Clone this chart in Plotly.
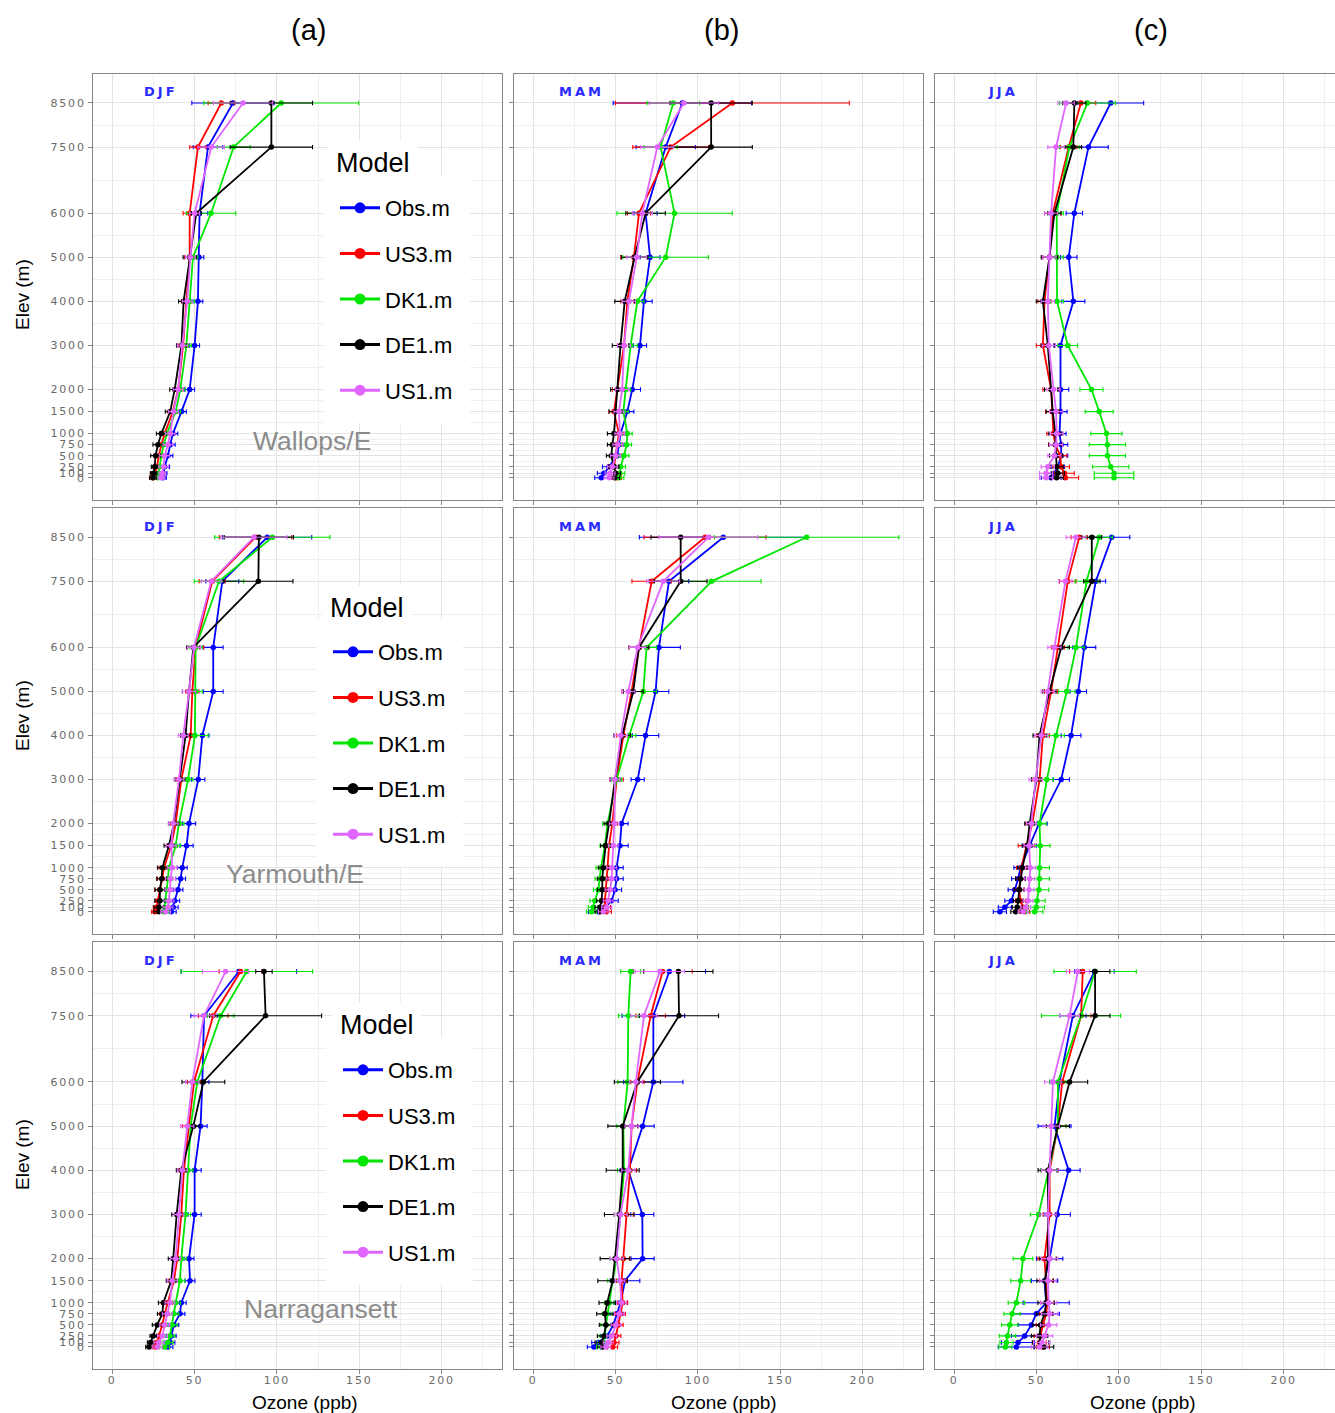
import plotly.graph_objects as go

# ---------------------------------------------------------------------------
# Vertical ozone profiles: mean (ppb) and standard deviation per height level
# ---------------------------------------------------------------------------
LEVELS = [8500, 7500, 6000, 5000, 4000, 3000, 2000, 1500, 1000, 750, 500, 250, 100, 0]
LEVEL_TICKS = [0, 100, 250, 500, 750, 1000, 1500, 2000, 3000, 4000, 5000, 6000, 7500, 8500]
LEVEL_MINOR = [50, 175, 375, 625, 875, 1250, 1750, 2500, 3500, 4500, 5500, 6750, 8000]
OZONE_TICKS = [0, 50, 100, 150, 200]
OZONE_MINOR = [25, 75, 125, 175, 225]

MODELS = ["Obs.m", "US3.m", "DK1.m", "DE1.m", "US1.m"]
COLORS = ["#0000ff", "#ff0000", "#00e600", "#000000", "#e066ff"]
STATIONS = ["Wallops/E", "Yarmouth/E", "Narragansett"]
SEASONS = ["DJF", "MAM", "JJA"]
COLUMN_TAGS = ["(a)", "(b)", "(c)"]
LEGEND_TITLE = "Model"

# Wallops Island, winter
wallops_djf_obs = [73.3, 58.1, 53.0, 52.6, 52.0, 50.0, 47.0, 42.0, 36.8, 35.2, 33.8, 31.8, 31.2, 30.8]
wallops_djf_obs_sd = [25, 9, 5, 3, 3, 3, 3, 3, 3, 3, 3, 3, 2, 2]
wallops_djf_us3 = [66.2, 52.0, 47.0, 47.0, 45.0, 43.0, 40.0, 36.8, 31.8, 29.8, 28.3, 27.1, 25.7, 24.7]
wallops_djf_us3_sd = [8, 5, 4, 3, 3, 3, 3, 3, 3, 2, 2, 2, 2, 2]
wallops_djf_dk1 = [102.6, 73.7, 60.0, 49.0, 47.0, 45.0, 41.3, 38.5, 33.2, 31.2, 29.8, 28.7, 28.3, 27.7]
wallops_djf_dk1_sd = [47, 10, 15, 3, 3, 3, 3, 3, 3, 3, 3, 3, 3, 3]
wallops_djf_de1 = [96.6, 96.6, 51.0, 47.0, 43.3, 42.0, 37.9, 35.2, 29.8, 27.7, 26.3, 25.7, 25.1, 24.7]
wallops_djf_de1_sd = [25, 25, 3, 4, 3, 3, 3, 3, 3, 3, 3, 2, 2, 2]
wallops_djf_us1 = [79.4, 60.1, 50.0, 47.4, 45.5, 42.5, 40.0, 37.2, 35.2, 33.8, 31.8, 31.2, 30.4, 29.8]
wallops_djf_us1_sd = [18, 8, 3, 3, 3, 3, 3, 3, 3, 3, 3, 3, 2, 2]

# Wallops Island, spring
wallops_mam_obs = [90.5, 80.4, 68.2, 70.9, 67.2, 64.8, 60.1, 57.1, 53.0, 52.0, 51.0, 46.0, 42.9, 41.3]
wallops_mam_obs_sd = [42, 18, 7, 6, 5, 4, 5, 4, 3, 3, 3, 4, 4, 4]
wallops_mam_us3 = [120.9, 83.4, 64.2, 61.1, 57.1, 55.1, 51.0, 49.0, 52.0, 51.0, 50.0, 49.0, 50.0, 50.6]
wallops_mam_us3_sd = [71, 23, 7, 8, 4, 4, 3, 3, 3, 3, 3, 3, 3, 3]
wallops_mam_dk1 = [85.0, 77.3, 85.8, 80.4, 63.2, 59.1, 56.1, 54.7, 57.1, 56.7, 55.1, 53.0, 52.6, 52.0]
wallops_mam_dk1_sd = [16, 10, 35, 26, 4, 4, 3, 3, 3, 3, 3, 3, 3, 3]
wallops_mam_de1 = [108.0, 108.0, 68.2, 61.5, 55.5, 53.0, 51.0, 50.0, 49.0, 48.0, 47.4, 49.0, 50.0, 49.4]
wallops_mam_de1_sd = [25, 25, 12, 8, 6, 5, 4, 4, 4, 3, 3, 3, 3, 3]
wallops_mam_us1 = [91.5, 75.3, 66.2, 62.8, 58.1, 55.1, 54.0, 52.0, 52.6, 51.4, 50.0, 48.0, 46.6, 46.0]
wallops_mam_us1_sd = [21, 10, 6, 6, 4, 4, 4, 3, 3, 3, 3, 3, 3, 3]

# Wallops Island, summer
wallops_jja_obs = [95.0, 81.5, 72.9, 69.5, 72.3, 64.5, 64.5, 64.5, 63.9, 64.9, 64.9, 62.9, 60.8, 58.8]
wallops_jja_obs_sd = [20, 12, 5, 5, 7, 4, 5, 4, 4, 4, 4, 4, 5, 6]
wallops_jja_us3 = [76.9, 69.5, 59.8, 57.8, 54.8, 53.8, 58.8, 59.4, 60.2, 61.4, 64.3, 64.9, 66.9, 67.5]
wallops_jja_us3_sd = [9, 5, 5, 4, 4, 4, 5, 4, 4, 4, 4, 5, 6, 8]
wallops_jja_dk1 = [80.9, 69.9, 62.2, 62.2, 62.4, 68.9, 83.3, 88.0, 92.4, 93.0, 93.0, 95.0, 97.0, 97.0]
wallops_jja_dk1_sd = [17, 6, 4, 4, 4, 6, 7, 8.5, 9.5, 11, 11, 11, 12, 12]
wallops_jja_de1 = [72.9, 72.3, 60.8, 57.8, 53.8, 56.8, 58.8, 59.8, 61.4, 61.4, 61.8, 62.2, 62.9, 62.2]
wallops_jja_de1_sd = [7, 5, 4, 5, 4, 4, 4, 4, 4, 4, 4, 4, 4, 4]
wallops_jja_us1 = [67.9, 61.8, 58.8, 57.8, 56.8, 57.4, 60.2, 61.8, 62.2, 61.8, 60.8, 56.8, 55.8, 55.8]
wallops_jja_us1_sd = [5, 5, 4, 4, 4, 4, 4, 4, 4, 4, 4, 4, 4, 4]

# Yarmouth, winter
yarmouth_djf_obs = [94.1, 66.8, 61.3, 61.3, 54.7, 52.2, 46.6, 45.1, 42.5, 41.5, 39.9, 37.9, 37.0, 35.8]
yarmouth_djf_obs_sd = [27, 10, 6, 6, 4, 4, 4, 4, 3, 3, 3, 3, 3, 3]
yarmouth_djf_us3 = [87.0, 60.7, 50.6, 48.6, 47.6, 41.9, 38.5, 35.8, 31.4, 30.4, 28.9, 27.9, 26.9, 25.9]
yarmouth_djf_us3_sd = [22, 8, 5, 4, 3, 3, 3, 3, 3, 3, 3, 2, 2, 2]
yarmouth_djf_dk1 = [97.2, 64.8, 50.6, 50.6, 50.2, 46.0, 40.5, 38.5, 34.4, 33.8, 33.0, 32.4, 31.8, 31.4]
yarmouth_djf_dk1_sd = [35, 15, 4, 4, 8, 3, 3, 3, 3, 3, 3, 3, 3, 3]
yarmouth_djf_de1 = [89.0, 88.7, 49.2, 46.6, 44.5, 41.1, 37.4, 34.4, 30.4, 30.0, 28.9, 28.9, 28.3, 28.3]
yarmouth_djf_de1_sd = [21, 21, 4, 4, 3, 3, 3, 3, 3, 3, 3, 3, 3, 3]
yarmouth_djf_us1 = [86.0, 60.1, 49.6, 46.6, 43.1, 40.5, 37.0, 35.8, 36.4, 35.4, 35.0, 34.4, 33.8, 32.4]
yarmouth_djf_us1_sd = [20, 6, 4, 4, 3, 3, 3, 3, 3, 3, 3, 3, 3, 3]

# Yarmouth, spring
yarmouth_mam_obs = [115.4, 82.4, 76.3, 74.3, 68.2, 63.4, 53.6, 52.6, 50.6, 50.6, 49.6, 47.6, 43.5, 39.5]
yarmouth_mam_obs_sd = [51, 12, 13, 8, 8, 4, 4, 5, 4, 4, 4, 4, 4, 6]
yarmouth_mam_us3 = [104.3, 71.9, 64.2, 59.7, 54.7, 50.6, 48.0, 46.0, 45.1, 44.5, 43.9, 43.5, 43.9, 44.5]
yarmouth_mam_us3_sd = [37, 12, 6, 6, 4, 4, 3, 3, 3, 3, 3, 3, 3, 3]
yarmouth_mam_dk1 = [166.0, 108.3, 68.8, 66.8, 58.3, 50.6, 45.1, 43.5, 41.1, 40.5, 39.5, 37.4, 36.4, 35.4]
yarmouth_mam_dk1_sd = [56, 30, 6, 8, 4, 3, 3, 3, 3, 3, 3, 3, 3, 3]
yarmouth_mam_de1 = [89.5, 89.5, 64.2, 60.7, 54.0, 49.6, 46.0, 43.9, 42.5, 41.9, 41.9, 41.5, 40.5, 40.5]
yarmouth_mam_de1_sd = [18, 16, 6, 6, 5, 3, 3, 3, 3, 3, 3, 3, 3, 3]
yarmouth_mam_us1 = [106.3, 78.9, 63.4, 57.7, 53.2, 49.6, 49.2, 48.6, 47.6, 47.6, 46.6, 45.5, 44.5, 42.5]
yarmouth_mam_us1_sd = [30, 10, 5, 4, 4, 3, 3, 3, 3, 3, 3, 3, 3, 3]

# Yarmouth, summer
yarmouth_jja_obs = [95.6, 85.9, 78.9, 75.3, 70.9, 64.9, 51.4, 45.8, 40.2, 38.8, 36.7, 34.7, 30.7, 27.7]
yarmouth_jja_obs_sd = [11, 6, 7, 5, 6, 5, 5, 4, 4, 4, 4, 4, 4, 4]
yarmouth_jja_us3 = [75.9, 68.9, 62.9, 58.8, 53.8, 51.8, 47.4, 43.8, 40.8, 40.2, 39.4, 40.2, 41.8, 42.8]
yarmouth_jja_us3_sd = [5, 5, 4, 4, 4, 4, 4, 5, 3, 3, 3, 3, 3, 3]
yarmouth_jja_dk1 = [88.0, 80.3, 73.9, 68.3, 61.8, 56.2, 51.8, 52.2, 51.8, 51.8, 51.4, 50.2, 49.8, 48.8]
yarmouth_jja_dk1_sd = [8, 7, 5, 5, 5, 4, 4, 6, 6, 6, 6, 5, 5, 5]
yarmouth_jja_de1 = [83.5, 83.5, 64.9, 57.8, 51.8, 49.8, 45.8, 44.2, 41.4, 40.2, 39.4, 38.8, 38.2, 37.3]
yarmouth_jja_de1_sd = [6, 5, 5, 4, 4, 3, 3, 3, 3, 3, 3, 3, 3, 3]
yarmouth_jja_us1 = [73.9, 67.5, 60.8, 56.8, 52.8, 49.4, 46.8, 45.4, 46.2, 45.8, 45.4, 44.8, 43.4, 41.8]
yarmouth_jja_us1_sd = [6, 4, 4, 4, 4, 4, 3, 3, 3, 3, 3, 3, 3, 3]

# Narragansett, winter
narragansett_djf_obs = [76.9, 55.7, 54.7, 53.6, 50.0, 50.0, 46.6, 47.2, 41.9, 41.1, 37.4, 35.8, 35.0, 33.8]
narragansett_djf_obs_sd = [35, 8, 4, 4, 4, 4, 3, 3, 3, 3, 3, 3, 3, 3]
narragansett_djf_us3 = [77.9, 61.3, 49.6, 46.6, 43.5, 41.9, 39.5, 37.4, 33.4, 31.8, 30.4, 28.3, 27.3, 26.3]
narragansett_djf_us3_sd = [13, 9, 4, 4, 3, 3, 3, 3, 3, 3, 3, 3, 2, 2]
narragansett_djf_dk1 = [81.6, 65.8, 51.6, 47.6, 46.0, 44.5, 41.9, 41.1, 38.5, 37.4, 36.4, 35.0, 33.8, 31.8]
narragansett_djf_dk1_sd = [40, 8, 4, 3, 3, 3, 3, 3, 3, 3, 3, 3, 3, 3]
narragansett_djf_de1 = [92.1, 93.1, 55.3, 49.2, 41.9, 39.1, 37.0, 35.8, 31.0, 30.4, 27.3, 24.9, 23.3, 22.3]
narragansett_djf_de1_sd = [5, 34, 13, 4, 3, 3, 3, 3, 3, 3, 3, 2, 2, 2]
narragansett_djf_us1 = [68.8, 55.7, 48.6, 45.5, 42.5, 40.5, 38.5, 36.4, 35.0, 33.4, 31.8, 30.4, 28.3, 27.3]
narragansett_djf_us1_sd = [14, 6, 4, 4, 3, 3, 3, 3, 3, 3, 3, 3, 3, 3]

# Narragansett, spring
narragansett_mam_obs = [82.6, 72.9, 72.9, 66.4, 57.7, 66.2, 66.4, 55.7, 53.0, 50.6, 48.6, 44.9, 39.5, 36.8]
narragansett_mam_obs_sd = [22, 19, 18, 7, 5, 7, 7, 9, 4, 4, 4, 4, 4, 4]
narragansett_mam_us3 = [78.5, 71.3, 63.2, 59.7, 58.7, 56.7, 54.7, 53.6, 54.3, 53.0, 51.6, 50.2, 49.0, 48.2]
narragansett_mam_us3_sd = [18, 9, 4, 4, 4, 4, 4, 3, 3, 3, 3, 3, 3, 3]
narragansett_mam_dk1 = [59.1, 57.7, 57.3, 54.7, 55.1, 53.0, 50.6, 48.2, 46.2, 44.9, 44.1, 43.5, 42.1, 41.5]
narragansett_mam_dk1_sd = [6, 6, 6, 4, 4, 4, 4, 3, 3, 3, 3, 3, 3, 3]
narragansett_mam_de1 = [88.1, 88.5, 63.2, 54.3, 54.3, 52.2, 49.6, 48.2, 44.9, 43.5, 44.1, 42.9, 41.5, 42.1]
narragansett_mam_de1_sd = [21, 24, 14, 9, 10, 9, 9, 9, 5, 5, 4, 4, 4, 3]
narragansett_mam_us1 = [76.9, 67.2, 62.3, 59.7, 57.7, 53.0, 50.6, 52.6, 53.6, 52.2, 50.2, 47.6, 45.5, 44.1]
narragansett_mam_us1_sd = [15, 8, 4, 4, 4, 4, 4, 3, 3, 3, 3, 3, 3, 3]

# Narragansett, summer
narragansett_jja_obs = [85.1, 72.0, 63.9, 60.9, 69.4, 62.5, 57.9, 54.8, 55.8, 49.8, 46.8, 42.7, 38.7, 37.7]
narragansett_jja_obs_sd = [12, 8, 6, 10, 7, 8, 8, 8, 14, 14, 8, 8, 10, 11]
narragansett_jja_us3 = [78.0, 77.0, 65.5, 62.9, 57.9, 57.9, 54.8, 55.8, 56.5, 55.8, 53.8, 52.4, 51.8, 53.8]
narragansett_jja_us3_sd = [8, 6, 5, 5, 5, 4, 4, 4, 4, 4, 4, 4, 4, 4]
narragansett_jja_dk1 = [85.5, 77.0, 62.9, 62.9, 57.3, 51.2, 41.7, 40.3, 37.7, 35.1, 33.7, 32.3, 31.7, 31.0]
narragansett_jja_dk1_sd = [25, 24, 5, 5, 5, 5, 6, 6, 5, 5, 5, 5, 4, 4]
narragansett_jja_de1 = [85.5, 85.5, 70.0, 62.9, 56.9, 56.9, 56.9, 55.2, 55.8, 54.8, 52.4, 51.8, 52.4, 54.4]
narragansett_jja_de1_sd = [9, 9, 11, 7, 6, 5, 5, 5, 5, 5, 5, 5, 5, 6]
narragansett_jja_us1 = [75.0, 70.0, 59.9, 58.9, 57.9, 56.9, 57.9, 56.9, 57.3, 57.9, 57.3, 54.8, 53.2, 51.8]
narragansett_jja_us1_sd = [7, 6, 5, 5, 5, 5, 5, 5, 5, 5, 5, 5, 5, 5]

# Grid of panels: rows = stations, columns = seasons; each cell lists (mean, sd) per model
PROFILES = [
    [
        [(wallops_djf_obs, wallops_djf_obs_sd), (wallops_djf_us3, wallops_djf_us3_sd),
         (wallops_djf_dk1, wallops_djf_dk1_sd), (wallops_djf_de1, wallops_djf_de1_sd),
         (wallops_djf_us1, wallops_djf_us1_sd)],
        [(wallops_mam_obs, wallops_mam_obs_sd), (wallops_mam_us3, wallops_mam_us3_sd),
         (wallops_mam_dk1, wallops_mam_dk1_sd), (wallops_mam_de1, wallops_mam_de1_sd),
         (wallops_mam_us1, wallops_mam_us1_sd)],
        [(wallops_jja_obs, wallops_jja_obs_sd), (wallops_jja_us3, wallops_jja_us3_sd),
         (wallops_jja_dk1, wallops_jja_dk1_sd), (wallops_jja_de1, wallops_jja_de1_sd),
         (wallops_jja_us1, wallops_jja_us1_sd)],
    ],
    [
        [(yarmouth_djf_obs, yarmouth_djf_obs_sd), (yarmouth_djf_us3, yarmouth_djf_us3_sd),
         (yarmouth_djf_dk1, yarmouth_djf_dk1_sd), (yarmouth_djf_de1, yarmouth_djf_de1_sd),
         (yarmouth_djf_us1, yarmouth_djf_us1_sd)],
        [(yarmouth_mam_obs, yarmouth_mam_obs_sd), (yarmouth_mam_us3, yarmouth_mam_us3_sd),
         (yarmouth_mam_dk1, yarmouth_mam_dk1_sd), (yarmouth_mam_de1, yarmouth_mam_de1_sd),
         (yarmouth_mam_us1, yarmouth_mam_us1_sd)],
        [(yarmouth_jja_obs, yarmouth_jja_obs_sd), (yarmouth_jja_us3, yarmouth_jja_us3_sd),
         (yarmouth_jja_dk1, yarmouth_jja_dk1_sd), (yarmouth_jja_de1, yarmouth_jja_de1_sd),
         (yarmouth_jja_us1, yarmouth_jja_us1_sd)],
    ],
    [
        [(narragansett_djf_obs, narragansett_djf_obs_sd), (narragansett_djf_us3, narragansett_djf_us3_sd),
         (narragansett_djf_dk1, narragansett_djf_dk1_sd), (narragansett_djf_de1, narragansett_djf_de1_sd),
         (narragansett_djf_us1, narragansett_djf_us1_sd)],
        [(narragansett_mam_obs, narragansett_mam_obs_sd), (narragansett_mam_us3, narragansett_mam_us3_sd),
         (narragansett_mam_dk1, narragansett_mam_dk1_sd), (narragansett_mam_de1, narragansett_mam_de1_sd),
         (narragansett_mam_us1, narragansett_mam_us1_sd)],
        [(narragansett_jja_obs, narragansett_jja_obs_sd), (narragansett_jja_us3, narragansett_jja_us3_sd),
         (narragansett_jja_dk1, narragansett_jja_dk1_sd), (narragansett_jja_de1, narragansett_jja_de1_sd),
         (narragansett_jja_us1, narragansett_jja_us1_sd)],
    ],
]

# ---------------------------------------------------------------------------
# Page geometry (pixels)
# ---------------------------------------------------------------------------
W, H = 1335, 1413
FONT = "Liberation Sans, Arial, sans-serif"
TICK_FONT = "DejaVu Sans, Verdana, sans-serif"
BORDER = "#858585"
GRID = "#e4e4e4"
GRID_MINOR = "#efefef"
TICK_GRAY = "#6a6a6a"

COL_PX = [(93, 502), (514, 923), (935, 1335)]
ROW_PX = [(73.5, 499.7), (507.8, 933.7), (942.0, 1369.0)]
PX_PER_PPB = 1.647
X_MIN = -11.7
Y_RANGE = [-499, 9169]


def wide(text, spacing):
    return f'<span style="letter-spacing:{spacing}px">{text}</span>'


fig = go.Figure()
layout_axes = {}

for r in range(3):
    for c in range(3):
        k = r * 3 + c + 1
        xs = "" if k == 1 else str(k)
        x0, x1 = COL_PX[c]
        top, bottom = ROW_PX[r]
        x_max = X_MIN + (x1 - x0) / PX_PER_PPB

        for m, (vals, sd) in enumerate(PROFILES[r][c]):
            fig.add_trace(go.Scatter(
                x=vals, y=LEVELS, mode="lines+markers",
                name=MODELS[m], showlegend=False,
                line=dict(color=COLORS[m], width=1.8),
                marker=dict(color=COLORS[m], size=5.5),
                error_x=dict(type="data", array=sd, color=COLORS[m], thickness=1.1, width=2.2),
                xaxis="x" + xs, yaxis="y" + xs,
            ))

        layout_axes["xaxis" + xs] = dict(
            domain=[x0 / W, x1 / W], anchor="y" + xs, range=[X_MIN, x_max],
            tickmode="array", tickvals=OZONE_TICKS,
            ticktext=[wide(str(v), 1.8) for v in OZONE_TICKS],
            showticklabels=(r == 2), ticklabelstandoff=-3,
            tickfont=dict(family=TICK_FONT, size=11, color=TICK_GRAY),
            ticks="outside", ticklen=4, tickcolor=BORDER,
            showgrid=True, gridcolor=GRID, gridwidth=1,
            minor=dict(tickvals=OZONE_MINOR, showgrid=True, gridcolor=GRID_MINOR, gridwidth=1),
            showline=True, mirror=True, linecolor=BORDER, linewidth=1.2,
            zeroline=False, fixedrange=True,
        )
        layout_axes["yaxis" + xs] = dict(
            domain=[1 - bottom / H, 1 - top / H], anchor="x" + xs, range=Y_RANGE,
            tickmode="array", tickvals=LEVEL_TICKS,
            ticktext=[wide(str(v), 1.8) for v in LEVEL_TICKS],
            showticklabels=(c == 0),
            tickfont=dict(family=TICK_FONT, size=11, color=TICK_GRAY),
            ticks="outside", ticklen=4, tickcolor=BORDER,
            showgrid=True, gridcolor=GRID, gridwidth=1,
            minor=dict(tickvals=LEVEL_MINOR, showgrid=True, gridcolor=GRID_MINOR, gridwidth=1),
            showline=True, mirror=True, linecolor=BORDER, linewidth=1.2,
            zeroline=False, fixedrange=True,
        )

# Legend entries: one key per row, drawn in the left-hand panel
legend_names = ["legend", "legend2", "legend3"]
for r in range(3):
    xs = "" if r == 0 else str(r * 3 + 1)
    for m, name in enumerate(MODELS):
        fig.add_trace(go.Scatter(
            x=[None], y=[None], mode="lines+markers", name=name,
            line=dict(color=COLORS[m], width=3),
            marker=dict(color=COLORS[m], size=11),
            legend=legend_names[r], legendgroup=f"row{r}-{name}",
            xaxis="x" + xs, yaxis="y" + xs,
        ))

# (box left, box top) of each key, and (left, centre y) of its heading box
legend_pos = [(323, 175), (316, 619), (326, 1037)]
legend_head = [(328, 163), (322, 608), (332, 1025)]
LEGEND_PAD = 12
legends = {}
for r, (lx, ly) in enumerate(legend_pos):
    legends[legend_names[r]] = dict(
        x=lx / W, y=1 - ly / H, xanchor="left", yanchor="top",
        bgcolor="white", bordercolor="white", borderwidth=LEGEND_PAD,
        font=dict(family=FONT, size=22, color="black"),
        traceorder="grouped", tracegroupgap=14, itemwidth=40,
        itemclick=False, itemdoubleclick=False,
    )

annotations = []
# key headings
for hx, hy in legend_head:
    annotations.append(dict(text=LEGEND_TITLE, x=hx / W, y=1 - hy / H, xref="paper", yref="paper",
                            showarrow=False, xanchor="left", yanchor="middle",
                            bgcolor="white", borderpad=7,
                            font=dict(family=FONT, size=27, color="black")))
# column tags
for tag, cx in zip(COLUMN_TAGS, [308, 721, 1151]):
    annotations.append(dict(text=tag, x=cx / W, y=1 - 30 / H, xref="paper", yref="paper",
                            showarrow=False, xanchor="center", yanchor="middle",
                            font=dict(family=FONT, size=29, color="black")))
# y-axis titles
for cy in [295, 716, 1155]:
    annotations.append(dict(text="Elev (m)", x=22 / W, y=1 - cy / H, xref="paper", yref="paper",
                            showarrow=False, textangle=-90, xanchor="center", yanchor="middle",
                            font=dict(family=FONT, size=19, color="black")))
# x-axis titles
for cx in [305, 724, 1143]:
    annotations.append(dict(text="Ozone (ppb)", x=cx / W, y=1 - 1402 / H, xref="paper", yref="paper",
                            showarrow=False, xanchor="center", yanchor="middle",
                            font=dict(family=FONT, size=19, color="black")))
# season tags and station names inside the panels
station_pos = [(121.2, 833), (110.8, 855), (126.7, 862)]
for r in range(3):
    for c in range(3):
        k = r * 3 + c + 1
        xs = "" if k == 1 else str(k)
        annotations.append(dict(text=wide(SEASONS[c], 3), x=29.5, y=8750, xref="x" + xs, yref="y" + xs,
                                showarrow=False, xanchor="center", yanchor="middle",
                                font=dict(family=TICK_FONT, size=13, color="#2a2aff", weight="bold")))
    sx, sy = station_pos[r]
    xs = "" if r == 0 else str(r * 3 + 1)
    annotations.append(dict(text=STATIONS[r], x=sx, y=sy, xref="x" + xs, yref="y" + xs,
                            showarrow=False, xanchor="center", yanchor="middle",
                            font=dict(family=FONT, size=26.5, color="#8c8c8c")))

fig.update_layout(
    width=W, height=H, margin=dict(l=0, r=0, t=0, b=0),
    paper_bgcolor="white", plot_bgcolor="white",
    annotations=annotations, **layout_axes, **legends,
)

fig.write_html("out.html")
